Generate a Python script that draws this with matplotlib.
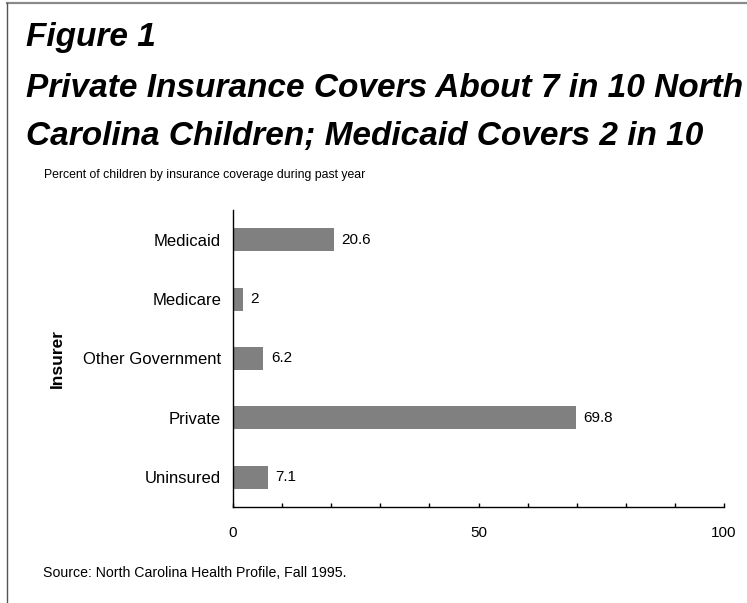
import matplotlib
matplotlib.use("Agg")
import matplotlib.pyplot as plt
from matplotlib.lines import Line2D
from matplotlib.ticker import MultipleLocator

plt.rcParams['font.family'] = ['Liberation Sans', 'DejaVu Sans']

# data
insurers = ["Medicaid", "Medicare", "Other Government", "Private", "Uninsured"]
percents = [20.6, 2, 6.2, 69.8, 7.1]
x_ticks = [0, 50, 100]

W, H = 747, 603
fig = plt.figure(figsize=(W / 100, H / 100), dpi=100)

# frame lines (top and left)
fig.add_artist(Line2D([7 / W, 1], [1 - 3 / H, 1 - 3 / H], color='#8a8a8a', linewidth=1.6))
fig.add_artist(Line2D([7 / W, 7 / W], [0, 1 - 3 / H], color='#555555', linewidth=1.0))

# titles
tkw = dict(fontsize=24, fontweight='bold', fontstyle='italic', va='baseline')
fig.text(26 / W, 1 - 46 / H, "Figure 1", **tkw)
fig.text(26 / W, 1 - 97 / H, "Private Insurance Covers About 7 in 10 North", **tkw)
fig.text(26 / W, 1 - 145 / H, "Carolina Children; Medicaid Covers 2 in 10", **tkw)
fig.text(44 / W, 1 - 178 / H, "Percent of children by insurance coverage during past year",
         fontsize=8.8, va='baseline')
fig.text(43 / W, 1 - 577 / H, "Source: North Carolina Health Profile, Fall 1995.",
         fontsize=10.2, va='baseline')

ax = fig.add_axes([233 / W, 1 - 507 / H, (724 - 233) / W, (507 - 210) / H])
ypos = list(range(len(insurers)))
ax.barh(ypos, percents, height=0.39, color='#808080')
for y, v in zip(ypos, percents):
    ax.text(v + 1.5, y, f"{v:g}", va='center', ha='left', fontsize=11)

ax.set_xlim(0, 100)
ax.set_ylim(len(insurers) - 0.5, -0.5)
ax.set_yticks(ypos)
ax.set_yticklabels(insurers, fontsize=12)
ax.set_xticks(x_ticks)
ax.set_xticklabels([str(t) for t in x_ticks], fontsize=11)
ax.xaxis.set_minor_locator(MultipleLocator(10))
ax.tick_params(axis='y', length=0, pad=8.6)
ax.tick_params(axis='x', which='both', direction='in', length=3, width=1, pad=14)
ax.set_ylabel("Insurer", fontsize=12.5, fontweight='bold')
ax.yaxis.set_label_coords(-0.342, 0.5)
for s in ['top', 'right']:
    ax.spines[s].set_visible(False)
ax.spines['left'].set_linewidth(1)
ax.spines['bottom'].set_linewidth(1)

fig.savefig("out.png", dpi=100)
